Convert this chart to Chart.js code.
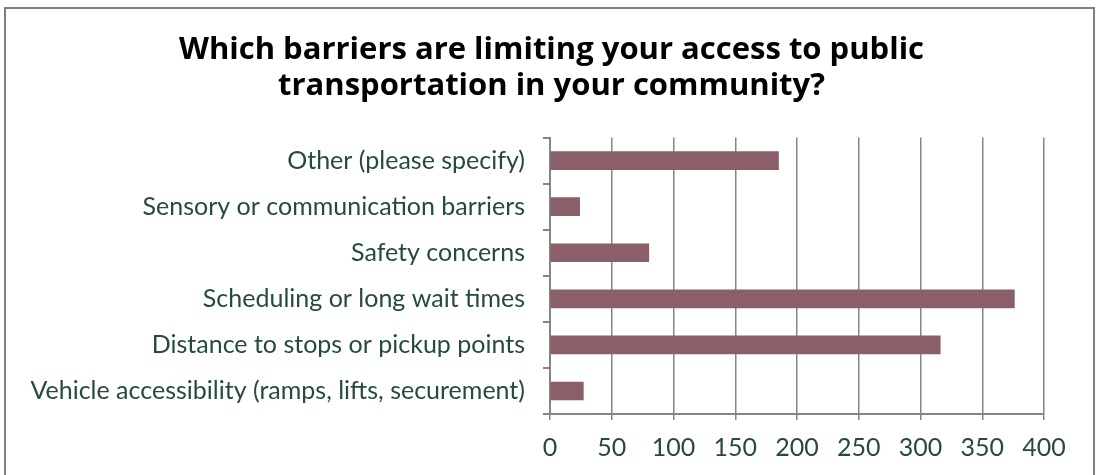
<!DOCTYPE html>
<html>
<head>
<meta charset="utf-8">
<script src="https://cdn.jsdelivr.net/npm/chart.js@4"></script>
<style>
  html, body { margin: 0; padding: 0; background: #fff; }
  #wrap { width: 1097px; height: 475px; }
</style>
</head>
<body>
<div id="wrap"><canvas id="barChart" width="1097" height="475"></canvas></div>
<script>
const titleLines = ["Which barriers are limiting your access to public", "transportation in your community?"];
const barriers = [
    "Other (please specify)",
    "Sensory or communication barriers",
    "Safety concerns",
    "Scheduling or long wait times",
    "Distance to stops or pickup points",
    "Vehicle accessibility (ramps, lifts, securement)"
];
const responses = [185, 24, 80, 376, 316, 27];
const xTicks = [0, 50, 100, 150, 200, 250, 300, 350, 400];

const labelColor = "#264a3c";
const gridColor = "#858585";

// frame round the whole picture, like the exported chart box
const frame = {
    id: "frame",
    beforeDraw(chart) {
        const c = chart.ctx;
        c.save();
        c.fillStyle = "#fff";
        c.fillRect(0, 0, chart.width, chart.height);
        c.strokeStyle = "#7f7f7f";
        c.lineWidth = 2;
        c.strokeRect(5, 8, 1089, 520);
        c.restore();
    }
};

const ctx = document.getElementById("barChart").getContext("2d");
const barChart = new Chart(ctx, {
    type: "bar",
    data: {
        labels: barriers,
        datasets: [{
            data: responses,
            backgroundColor: "#8b5f67",
            borderWidth: 0,
            barThickness: 18
        }]
    },
    options: {
        indexAxis: "y",
        responsive: false,
        animation: false,
        layout: { padding: { left: 6, right: 0, top: 10, bottom: 0 } },
        scales: {
            x: {
                min: 0,
                max: 400,
                afterBuildTicks: axis => { axis.ticks = xTicks.map(v => ({ value: v })); },
                afterFit: scale => {
                    scale.height = 61;
                    scale.paddingRight = 53; // room right of the 400 line
                },
                grid: { color: gridColor, lineWidth: 1.5, tickLength: 6 },
                border: { color: gridColor, width: 2 },
                ticks: { color: labelColor, padding: 13, font: { family: "Lato", size: 25 } }
            },
            y: {
                afterFit: scale => { scale.width = 544; },
                grid: { drawOnChartArea: false, color: gridColor, lineWidth: 2, tickLength: 7 },
                border: { color: gridColor, width: 2 },
                ticks: { color: labelColor, padding: 18, font: { family: "Lato", size: 25 } }
            }
        },
        plugins: {
            legend: { display: false },
            tooltip: { enabled: false },
            title: {
                display: true,
                text: titleLines,
                color: "#000",
                font: { family: "Open Sans", size: 31, weight: "bold", lineHeight: 1.17 },
                padding: { top: 22, bottom: 33 }
            }
        }
    },
    plugins: [frame]
});
</script>
</body>
</html>
